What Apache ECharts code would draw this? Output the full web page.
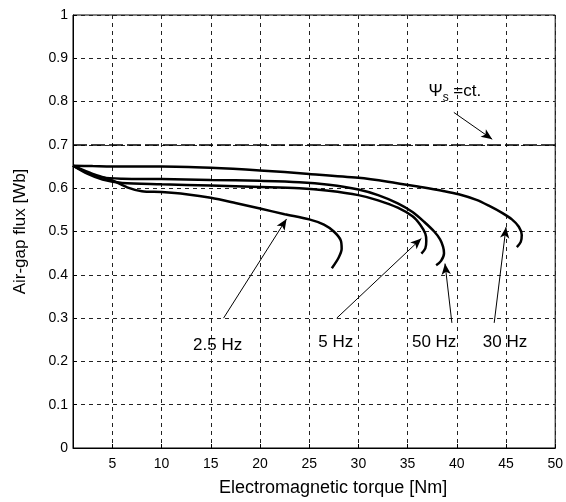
<!DOCTYPE html>
<html>
<head>
<meta charset="utf-8">
<script src="https://cdn.jsdelivr.net/npm/echarts@6/dist/echarts.min.js"></script>
<style>
  html, body { margin: 0; background: #fff; }
  #chart { width: 566px; height: 502px; }
</style>
</head>
<body>
<div id="chart"></div>
<script>
// curves [torque Nm, air-gap flux Wb]
var hz30 = [[1,0.652],[3,0.651],[6,0.650],[10,0.650],[15,0.647],[20,0.641],[25,0.633],[30,0.624],[33,0.615],[36.5,0.602],[38.5,0.594],[40.2,0.586],[42,0.573],[43.3,0.559],[44.6,0.543],[45.6,0.528],[46.3,0.511],[46.6,0.492],[46.5,0.476],[46.1,0.464]];
var hz50 = [[1,0.652],[2.5,0.635],[4,0.625],[6,0.622],[10,0.621],[15,0.619],[20,0.617],[24,0.614],[27,0.608],[30,0.597],[32,0.584],[34,0.565],[35.5,0.545],[36.7,0.522],[37.7,0.500],[38.3,0.482],[38.6,0.465],[38.7,0.450],[38.4,0.432],[37.9,0.422]];
var hz5 = [[1,0.652],[2.5,0.633],[4,0.620],[6,0.612],[10,0.609],[15,0.606],[20,0.603],[24,0.600],[27,0.594],[30,0.584],[32,0.572],[34,0.555],[35.5,0.535],[36.3,0.515],[36.8,0.495],[36.9,0.478],[36.8,0.461],[36.4,0.449]];
var hz2_5 = [[1,0.652],[3,0.633],[5,0.618],[6.5,0.602],[8,0.593],[10,0.591],[12.5,0.586],[15,0.578],[17.5,0.566],[20,0.553],[22.5,0.540],[25,0.528],[26.5,0.516],[27.5,0.500],[28.2,0.480],[28.3,0.460],[28.0,0.440],[27.3,0.415]];
var psiConst = [[1,0.7],[50,0.7]];

// annotation arrows: [tail, head]
var arrows = [
  [[16.3,0.300],[22.7,0.529]],
  [[27.8,0.300],[36.4,0.484]],
  [[39.5,0.289],[38.8,0.426]],
  [[43.8,0.289],[45.0,0.510]],
  [[39.7,0.775],[43.6,0.713]]
];
// annotation texts: [x, y, text]
var notes = [
  [15.7,0.238,'2.5 Hz'],
  [27.7,0.243,'5 Hz'],
  [37.7,0.243,'50 Hz'],
  [44.9,0.243,'30 Hz']
];
var psiNote = [39.8,0.823];

var xMin = 1, xMax = 50;
var yMin = 0, yMax = 1;

var chart = echarts.init(document.getElementById('chart'));

function curve(name, data) {
  return {
    name: name, type: 'line', data: data, showSymbol: false, smooth: 0.3,
    lineStyle: { color: '#000', width: 2.5 }, silent: true, z: 5
  };
}

chart.setOption({
  animation: false,
  backgroundColor: '#fff',
  textStyle: { fontFamily: 'Liberation Sans, Arial, sans-serif', color: '#000' },
  grid: { left: 73, right: 9, top: 15, bottom: 51, show: true, borderColor: '#000', borderWidth: 1 },
  xAxis: {
    type: 'value', min: xMin, max: xMax, splitNumber: 10,
    name: 'Electromagnetic torque [Nm]', nameLocation: 'middle', nameGap: 31,
    nameTextStyle: { fontSize: 18, color: '#000', padding: [0, 0, 0, 38] },
    axisLine: { lineStyle: { color: '#000', width: 1 } },
    axisTick: { inside: true, length: 4, lineStyle: { color: '#000' } },
    axisLabel: { showMinLabel: false, fontSize: 14, color: '#000', margin: 9 },
    splitLine: { show: true, lineStyle: { type: [4, 4], color: '#222', width: 1 } }
  },
  yAxis: {
    type: 'value', min: yMin, max: yMax, interval: 0.1,
    name: 'Air-gap flux [Wb]', nameLocation: 'middle', nameGap: 44, nameRotate: 90,
    nameTextStyle: { fontSize: 17, color: '#000' },
    axisLine: { lineStyle: { color: '#000', width: 1 } },
    axisTick: { inside: true, length: 4, lineStyle: { color: '#000' } },
    axisLabel: { fontSize: 14, color: '#000', margin: 5 },
    splitLine: { show: true, lineStyle: { type: [4, 4], color: '#222', width: 1 } }
  },
  series: [
    {
      name: 'psi', type: 'line', data: psiConst, showSymbol: false, silent: true,
      lineStyle: { color: '#000', width: 1.5, type: [14, 4] }, z: 4
    },
    curve('30 Hz', hz30),
    curve('50 Hz', hz50),
    curve('5 Hz', hz5),
    curve('2.5 Hz', hz2_5),
    {
      name: 'arrows', type: 'line', data: [], silent: true,
      markLine: {
        silent: true, symbol: ['none', 'arrow'], symbolSize: [7, 11],
        label: { show: false },
        lineStyle: { color: '#000', width: 1, type: 'solid' },
        data: arrows.map(function (a) { return [{ coord: a[0] }, { coord: a[1] }]; })
      }
    },
    {
      name: 'notes', type: 'scatter', symbolSize: 0, silent: true,
      itemStyle: { opacity: 1 },
      data: notes.concat([[psiNote[0], psiNote[1], 'psi']]),
      label: {
        show: true, position: 'inside', color: '#000', fontSize: 17, opacity: 1,
        textBorderWidth: 0,
        formatter: function (p) {
          return p.data[2] === 'psi' ? '{p|Ψ}{s|s}{p| =ct.}' : p.data[2];
        },
        rich: {
          p: { fontSize: 17, color: '#000' },
          s: { fontSize: 12, color: '#000', padding: [12, 0, 0, 0] }
        }
      }
    }
  ]
});
</script>
</body>
</html>
